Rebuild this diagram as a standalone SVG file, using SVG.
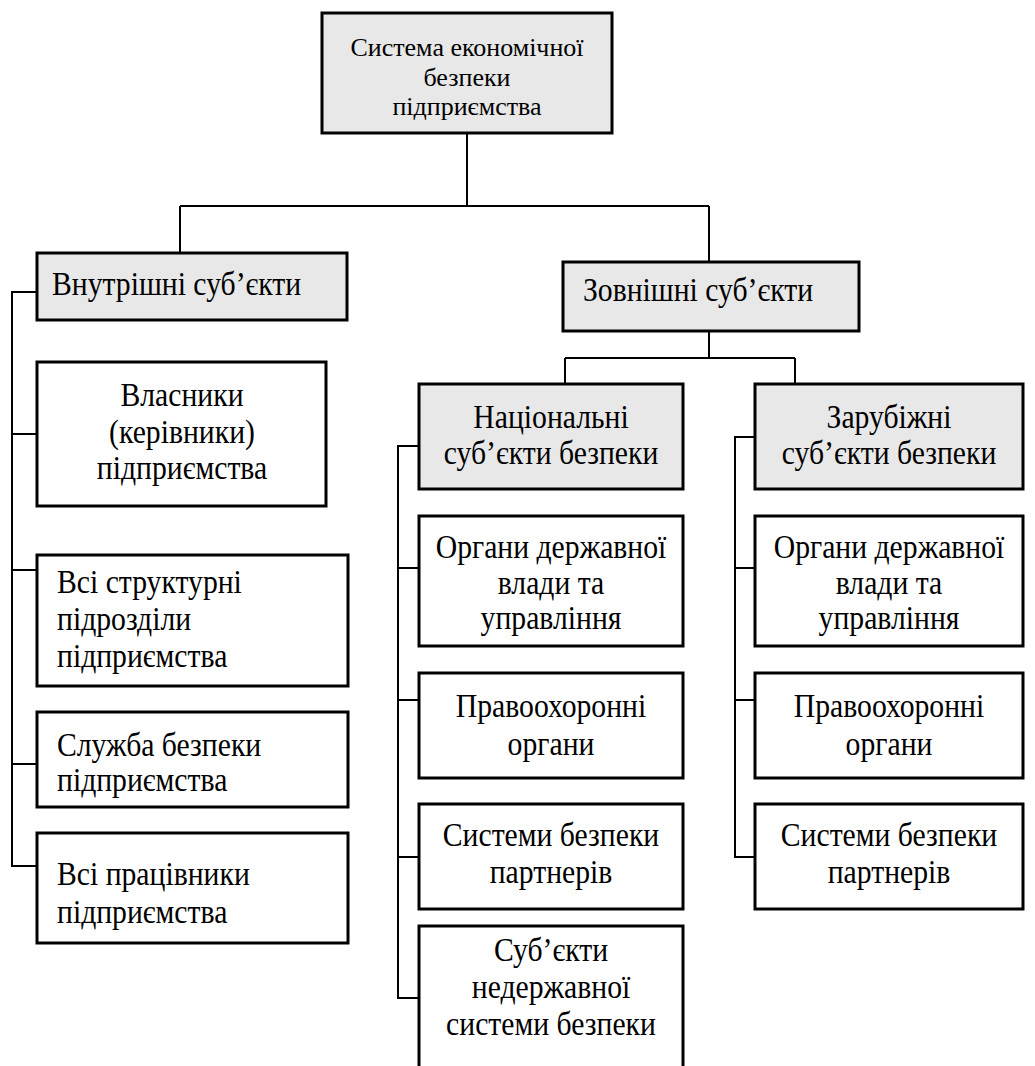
<svg xmlns="http://www.w3.org/2000/svg" width="1035" height="1066" viewBox="0 0 1035 1066">
<style>
.box{fill:#fff;stroke:#000;stroke-width:3}
.g{fill:#e8e8e8}
.t{font-family:'Liberation Serif','Times New Roman','DejaVu Serif',serif;font-size:33px;fill:#000}
.c{text-anchor:middle}
.s{font-size:26px}
.ln{fill:none;stroke:#000;stroke-width:2}
</style>
<rect width="1035" height="1066" fill="#fff"/>
<g id="connectors">
<path class="ln" d="M467 133V206M180 206H709M180 206V253M709 206V262"/>
<path class="ln" d="M37 292H12V866H37M12 434H37M12 570H37M12 764H37"/>
<path class="ln" d="M709 331V358M565 358H795M565 358V384M795 358V384"/>
<path class="ln" d="M419 446H398V998H419M398 568H419M398 700H419M398 857H419"/>
<path class="ln" d="M755 437H735V857H755M735 568H755M735 700H755"/>
</g>
<g id="root"><rect class="box g" x="322" y="13" width="290" height="120"/>
<text class="t s c" x="467" y="56">Система економічної</text>
<text class="t s c" x="467" y="86">безпеки</text>
<text class="t s c" x="467" y="115">підприємства</text></g>
<g id="internal"><rect class="box g" x="37" y="253" width="310" height="67"/>
<g transform="translate(52 0) scale(0.9 1)"><text class="t" x="0" y="295">Внутрішні суб’єкти</text></g></g>
<g id="owners"><rect class="box" x="37" y="362" width="289" height="144"/>
<g transform="translate(182 0) scale(0.9 1)">
<text class="t c" x="0" y="406">Власники</text>
<text class="t c" x="0" y="443">(керівники)</text>
<text class="t c" x="0" y="479">підприємства</text></g></g>
<g id="units"><rect class="box" x="37" y="555" width="311" height="131"/>
<g transform="translate(57 0) scale(0.9 1)">
<text class="t" x="0" y="593">Всі структурні</text>
<text class="t" x="0" y="630">підрозділи</text>
<text class="t" x="0" y="667">підприємства</text></g></g>
<g id="security"><rect class="box" x="37" y="712" width="311" height="95"/>
<g transform="translate(57 0) scale(0.9 1)">
<text class="t" x="0" y="756">Служба безпеки</text>
<text class="t" x="0" y="791">підприємства</text></g></g>
<g id="staff"><rect class="box" x="37" y="833" width="311" height="110"/>
<g transform="translate(57 0) scale(0.9 1)">
<text class="t" x="0" y="885">Всі працівники</text>
<text class="t" x="0" y="923">підприємства</text></g></g>
<g id="external"><rect class="box g" x="563" y="262" width="296" height="69"/>
<g transform="translate(583 0) scale(0.9 1)"><text class="t" x="0" y="301">Зовнішні суб’єкти</text></g></g>
<g id="national"><rect class="box g" x="419" y="384" width="264" height="105"/>
<g transform="translate(551 0) scale(0.9 1)">
<text class="t c" x="0" y="428">Національні</text>
<text class="t c" x="0" y="464">суб’єкти безпеки</text></g></g>
<g id="foreign"><rect class="box g" x="755" y="384" width="268" height="105"/>
<g transform="translate(889 0) scale(0.9 1)">
<text class="t c" x="0" y="428">Зарубіжні</text>
<text class="t c" x="0" y="464">суб’єкти безпеки</text></g></g>
<g id="n-gov"><rect class="box" x="419" y="516" width="264" height="130"/>
<g transform="translate(551 0) scale(0.9 1)">
<text class="t c" x="0" y="558">Органи державної</text>
<text class="t c" x="0" y="594">влади та</text>
<text class="t c" x="0" y="629">управління</text></g></g>
<g id="n-law"><rect class="box" x="419" y="673" width="264" height="105"/>
<g transform="translate(551 0) scale(0.9 1)">
<text class="t c" x="0" y="717">Правоохоронні</text>
<text class="t c" x="0" y="755">органи</text></g></g>
<g id="n-partners"><rect class="box" x="419" y="804" width="264" height="105"/>
<g transform="translate(551 0) scale(0.9 1)">
<text class="t c" x="0" y="846">Системи безпеки</text>
<text class="t c" x="0" y="883">партнерів</text></g></g>
<g id="n-private"><path class="box" d="M419 1068V926H683V1068"/>
<g transform="translate(551 0) scale(0.9 1)">
<text class="t c" x="0" y="961">Суб’єкти</text>
<text class="t c" x="0" y="998">недержавної</text>
<text class="t c" x="0" y="1035">системи безпеки</text></g></g>
<g id="f-gov"><rect class="box" x="755" y="516" width="268" height="130"/>
<g transform="translate(889 0) scale(0.9 1)">
<text class="t c" x="0" y="558">Органи державної</text>
<text class="t c" x="0" y="594">влади та</text>
<text class="t c" x="0" y="629">управління</text></g></g>
<g id="f-law"><rect class="box" x="755" y="673" width="268" height="105"/>
<g transform="translate(889 0) scale(0.9 1)">
<text class="t c" x="0" y="717">Правоохоронні</text>
<text class="t c" x="0" y="755">органи</text></g></g>
<g id="f-partners"><rect class="box" x="755" y="804" width="268" height="105"/>
<g transform="translate(889 0) scale(0.9 1)">
<text class="t c" x="0" y="846">Системи безпеки</text>
<text class="t c" x="0" y="883">партнерів</text></g></g>
</svg>
